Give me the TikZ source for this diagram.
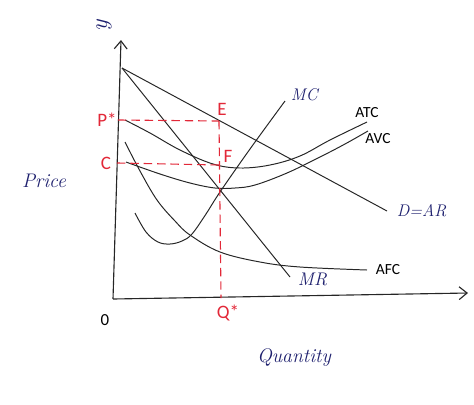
\documentclass[tikz,border=0pt]{standalone}
\usepackage{fontspec}
\setsansfont{Carlito}
\usetikzlibrary{positioning,arrows.meta,calc}
\definecolor{SketchRed}{RGB}{226,40,56}
\definecolor{InkBlue}{RGB}{30,32,110}

\begin{document}
\begin{tikzpicture}[x=0.025cm,y=-0.025cm,font=\sffamily\fontsize{11}{13}\selectfont,
  curve/.style={line width=0.7pt,black!85},
  guide/.style={line width=0.8pt,SketchRed,dash pattern=on 6pt off 3.5pt},
  redtag/.style={SketchRed,font=\sffamily\fontsize{13.5}{15}\selectfont},
  ink/.style={InkBlue,font=\itshape\fontsize{12}{14}\selectfont}]
\useasboundingbox (0,0) rectangle (474,404);
% axes
\coordinate (O) at (113,299);
\coordinate (ytop) at (121,40);
\coordinate (xend) at (468,293);
\draw[line width=0.8pt,black!85,-{Straight Barb[length=2mm,width=3.2mm]}] (O) -- (ytop);
\draw[line width=0.8pt,black!85,-{Straight Barb[length=2mm,width=3.2mm]}] (O) -- (xend);
\node[ink,rotate=90,font=\itshape\fontsize{17}{19}\selectfont] (ylab) at (104,26) {y};
\node[font=\sffamily\fontsize{12}{14}\selectfont] (zero) at (105,320) {0};
\node[ink,font=\itshape\fontsize{14}{16}\selectfont] (price) at (44,181) {Price};
\node[ink,font=\itshape\fontsize{14}{16}\selectfont] (qty) at (294,358) {Quantity};

% demand and marginal revenue
\coordinate (top) at (122,68);
\coordinate (dend) at (387,211);
\coordinate (mrend) at (290,277);
\draw[curve] (top) -- (dend);
\draw[curve] (top) -- (mrend);
\node[ink,anchor=west] (dar) at (392,211) {D=AR};
\node[ink,anchor=west,font=\itshape\fontsize{13}{15}\selectfont] (mr) at (293,279) {MR};

% cost curves
\draw[curve] plot[smooth,tension=0.6] coordinates {(135,213) (146,232) (158,242) (170,244) (182,241) (192,234) (206,214) (220,192) (250,149) (285,101)};
\node[ink,anchor=west] (mc) at (286,95) {MC};
\draw[curve] plot[smooth,tension=0.6] coordinates {(125,120) (150,133) (180,150) (213,164) (240,168) (270,165) (300,156) (330,140) (367,122)};
\node (atc) at (367,113) {ATC};
\draw[curve] plot[smooth,tension=0.6] coordinates {(126,162) (160,174) (190,183) (215,188) (235,188) (255,185) (287,173) (320,157) (345,144) (368,131)};
\node (avc) at (378,139) {AVC};
\draw[curve] plot[smooth,tension=0.6] coordinates {(125,142) (140,171) (157,200) (175,221) (190,235) (220,252) (260,262) (300,267) (367,270)};
\node[anchor=west] (afc) at (371,270) {AFC};

% profit maximising point
\coordinate (E) at (219,121);
\coordinate (F) at (220,165);
\coordinate (Q) at (221,298);
\draw[guide] (118,120) -- (E);
\draw[guide] (117,163) -- (F);
\draw[guide] (E) -- (Q);
\node[redtag] (elab) at (222,109) {E};
\node[redtag] (flab) at (228,156) {F};
\node[redtag] (pstar) at (107,120) {P*};
\node[redtag] (clab) at (106,163) {C};
\node[redtag] (qstar) at (228,313) {Q*};
\end{tikzpicture}
\end{document}
